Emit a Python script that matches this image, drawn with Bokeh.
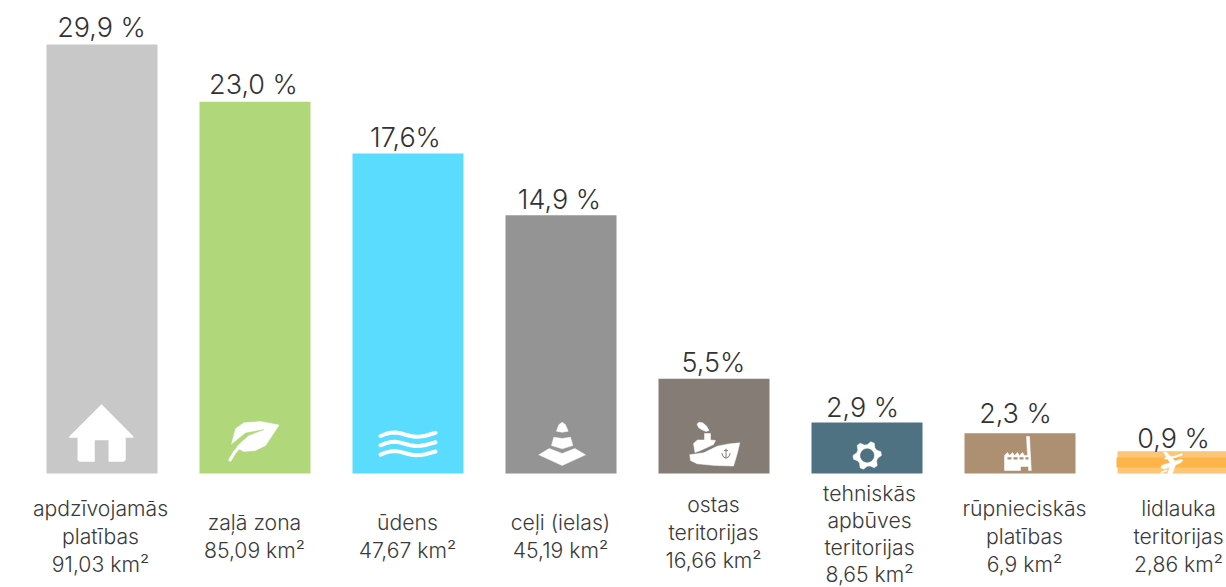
import numpy as np
from bokeh.core.properties import value
from bokeh.embed import file_html
from bokeh.models import ColumnDataSource, Range1d
from bokeh.plotting import figure
from bokeh.resources import INLINE

# ---- data ----
percent_labels = ["29,9 %", "23,0 %", "17,6%", "14,9 %", "5,5%", "2,9 %", "2,3 %", "0,9 %"]
category_lines = [
    ["apdzīvojamās", "platības", "91,03 km²"],
    ["zaļā zona", "85,09 km²"],
    ["ūdens", "47,67 km²"],
    ["ceļi (ielas)", "45,19 km²"],
    ["ostas", "teritorijas", "16,66 km²"],
    ["tehniskās", "apbūves", "teritorijas", "8,65 km²"],
    ["rūpnieciskās", "platības", "6,9 km²"],
    ["lidlauka", "teritorijas", "2,86 km²"],
]
# bar heights as they are drawn (the picture's bars are not proportional to their labels)
drawn_heights = [29.9, 25.9, 22.3, 18.0, 6.6, 3.55, 2.8, 1.55]
bar_colors = ["#c8c8c8", "#b0d87b", "#5adcff", "#949494", "#857c76", "#4e7282", "#ad8f72", "#fdc676"]

# ---- layout ----
W, H = 1226, 587
BASE_PX = 473.0
X_PX = 153.0
Y_PX = 14.35
FIRST_PX = 101.5
FONT = "Inter Light"
TEXT = "#333333"
PCT_SIZE = "27px"
CAT_SIZE = "21.2px"
PCT_SHIFT = 11    # the text glyph sits this much below the asked baseline
CAT_SHIFT = 8.5

pct_center_px = [101, 253, 405, 559, 713, 862, 1015, 1173]
pct_baseline_px = [38, 95, 148, 210, 373, 418, 424, 449]
cat_center_px = [100, 254, 407, 560, 713, 869, 1024, 1178]
cat_first_baseline_px = [516, 530, 530, 530, 512, 501, 516, 516]
cat_line_px = [28, 28, 28, 28, 28, 27, 28, 28]


def dx(px):
    return (np.asarray(px, float) - FIRST_PX) / X_PX


def dy(py):
    return (BASE_PX - np.asarray(py, float)) / Y_PX


p = figure(
    width=W, height=H, output_backend="svg", toolbar_location=None,
    x_axis_type=None, y_axis_type=None, min_border=0, outline_line_color=None,
    x_range=Range1d(float(dx(0)), float(dx(W))),
    y_range=Range1d(float(dy(H)), float(dy(0))),
    background_fill_color="white", border_fill_color="white",
    styles={"position": "absolute", "left": "0px", "top": "0px"},
)
p.grid.visible = False

idx = list(range(len(drawn_heights)))
p.vbar(x="i", top="h", bottom=0, width=111 / X_PX, fill_color="c", line_color=None,
       source=ColumnDataSource(dict(i=idx, h=drawn_heights, c=bar_colors)))

# darker middle stripe of the last bar
p.quad(left=[float(dx(1116))], right=[float(dx(1228))], top=[float(dy(457))], bottom=[float(dy(467))],
       fill_color="#fdb54a", line_color=None)

p.text(x=dx(pct_center_px), y=dy(np.array(pct_baseline_px) - PCT_SHIFT), text=percent_labels,
       text_font=value(FONT), text_font_size=value(PCT_SIZE), text_color=TEXT,
       text_align="center", text_baseline="alphabetic")

cx, cy, ct = [], [], []
for px, first, step, lines in zip(cat_center_px, cat_first_baseline_px, cat_line_px, category_lines):
    for k, line in enumerate(lines):
        cx.append(px)
        cy.append(first + k * step - CAT_SHIFT)
        ct.append(line)
p.text(x=dx(cx), y=dy(cy), text=ct,
       text_font=value(FONT), text_font_size=value(CAT_SIZE), text_color="#3a3a3a",
       text_align="center", text_baseline="alphabetic")


# ---- white pictograms, outlined in page pixels ----
def poly(points, color="white"):
    xs, ys = zip(*points)
    p.patch(dx(xs), dy(ys), fill_color=color, line_color=color, line_width=0.5)


def stroke(points, color="white", width=4.5):
    xs, ys = zip(*points)
    p.line(dx(xs), dy(ys), line_color=color, line_width=width, line_cap="round", line_join="round")


# house
poly([(101, 404), (69, 436), (69, 437), (77.3, 437), (77.3, 459.5), (79, 461), (94, 461), (94, 439.5),
      (108.3, 439.5), (108.3, 461), (123.5, 461), (125, 459.5), (125, 437), (132.7, 437), (132.7, 436)])

# leaf
poly([(278.5, 424.5), (260, 421), (243.3, 422.3), (235, 428.3), (231, 444), (238.3, 448.3), (243.3, 451),
      (255, 450), (265, 445), (271.7, 435)])
poly([(231, 444), (245, 432.5), (263.5, 429), (248, 435), (238, 444), (232.5, 452), (229, 452)], "#b0d87b")
stroke([(229.5, 459.5), (234, 452), (238.5, 446.5), (244, 441)], width=3.2)

# waves
for off in (0, 9.3, 18.6):
    stroke([(380, 435.5 + off), (385, 433.5 + off), (390, 432.3 + off), (395, 432 + off), (400, 432.8 + off),
            (405, 434.2 + off), (410, 435.5 + off), (415, 436.2 + off), (420, 436 + off), (425, 435.2 + off),
            (430, 433.8 + off), (435, 432.4 + off)], width=4)

# cone
poly([(556, 430.7), (558.3, 424.3), (561.7, 421.8), (565, 424.3), (567.7, 430.7), (561.7, 431.8)])
poly([(553.3, 436.7), (561.7, 438), (570, 436.7), (572.3, 445), (561.7, 448.3), (551, 445)])
poly([(548.8, 448), (538.3, 454.3), (561.7, 465), (585, 454.3), (574.3, 448), (561.7, 453)])

# ship
poly([(689.3, 454.3), (703.3, 452.3), (716.7, 445.7), (728, 443.5), (739.3, 442.3), (736.7, 453.3),
      (733, 465.5), (715, 465), (696.7, 463.3), (690, 460)])
poly([(693, 443), (697, 439.5), (704, 439.5), (704, 433), (710, 433), (710, 439.5), (715, 440), (713, 444),
      (700, 450), (694.5, 452)])
poly([(696.5, 423.5), (698.5, 421.8), (702, 422.3), (706, 425.5), (708.5, 430), (705.5, 431), (701, 429),
      (698, 427)])
for seg in ([(725.5, 448.5), (725.5, 457.5)], [(721.5, 453), (722.5, 456), (725.5, 457.7), (728.5, 456), (729.5, 453)],
            [(723.8, 450), (727.2, 450)]):
    stroke(seg, "#857c76", 1.0)

# gear
angles = np.deg2rad(np.arange(0, 360, 15) + 90)
radii = np.array([14.2, 14.2, 10.8, 10.8] * 6)[np.r_[23, 0:23]]
poly(list(zip(866.7 + radii * np.cos(angles), 455 + radii * np.sin(angles))))
hole = np.deg2rad(np.arange(0, 360, 15))
poly(list(zip(866.7 + 6.8 * np.cos(hole), 455 + 6.8 * np.sin(hole))), "#4e7282")

# factory
poly([(1026, 436), (1029, 436), (1030.8, 470), (1028, 470), (1028, 466), (1020, 466), (1020, 470), (1004, 470),
      (1004, 455), (1007, 452), (1009, 455), (1012, 452), (1014, 455), (1017, 452), (1019, 455), (1022, 452),
      (1024, 455), (1027, 455)])
for a, b in ((1007, 1011), (1013, 1017), (1019, 1023), (1025, 1028)):
    p.quad(left=[float(dx(a))], right=[float(dx(b))], top=[float(dy(456.7))], bottom=[float(dy(459))],
           fill_color="#ad8f72", line_color=None)

# plane
poly([(1161, 465), (1172, 461.5), (1180, 459), (1182.5, 459.5), (1180.5, 462), (1174, 465), (1164, 468.5),
      (1160.5, 467.5)])
poly([(1163, 451.7), (1166, 451.7), (1175, 461), (1170, 463)])
poly([(1167, 473), (1172, 473), (1175, 464), (1170, 465)])
stroke([(1165, 458), (1174, 456.5), (1181, 454)], width=2.2)
stroke([(1161, 472), (1166, 470)], width=1.8)

open("out.html", "w").write(file_html(p, INLINE))
